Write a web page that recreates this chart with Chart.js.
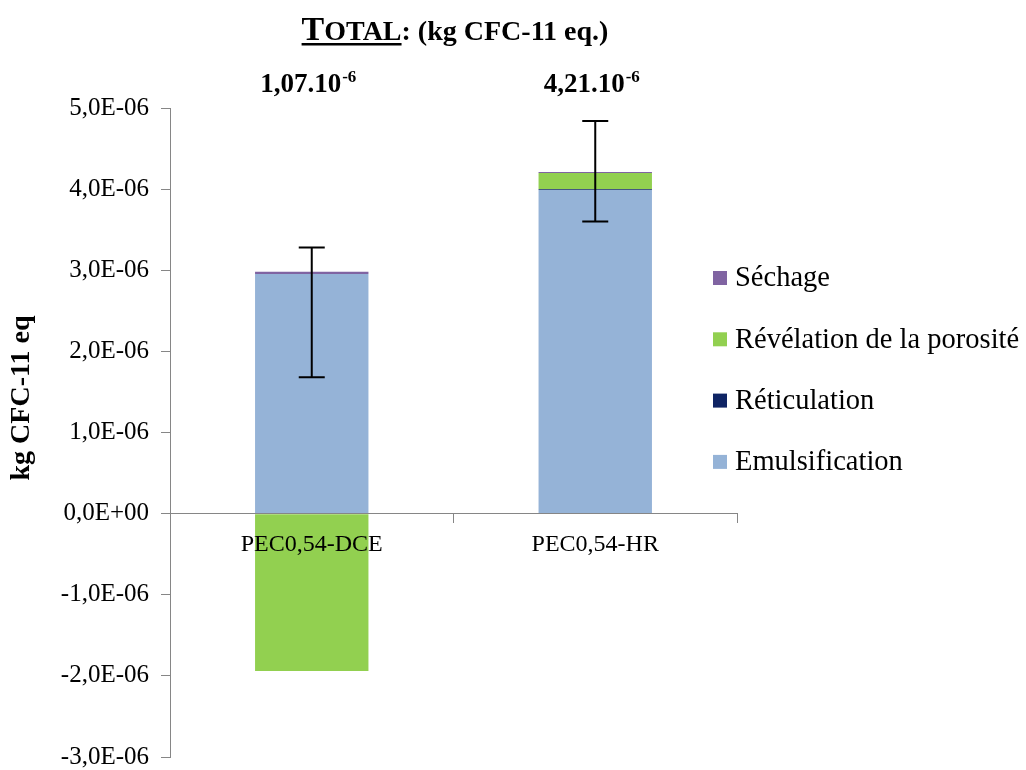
<!DOCTYPE html>
<html>
<head>
<meta charset="utf-8">
<script src="https://cdn.jsdelivr.net/npm/chart.js@4.4.0/dist/chart.umd.min.js"></script>
<style>
    body { margin: 0; background: #fff; }
    canvas { display: block; }
</style>
</head>
<body>
<canvas id="odpChart" width="1026" height="770"></canvas>
<script>
const categories = ['PEC0,54-DCE', 'PEC0,54-HR'];
const emulsification = [2.955e-6, 3.99e-6];
const reticulation = [0.0, 0.01e-6];
const revelation = [-1.94e-6, 0.2e-6];
const sechage = [0.025e-6, 0.01e-6];
const errLow = [1.68e-6, 3.6e-6];
const errHigh = [3.28e-6, 4.84e-6];
const totals = ['1,07.10', '4,21.10'];
const totalsExp = '-6';
const yTicks = [-3e-6, -2e-6, -1e-6, 0, 1e-6, 2e-6, 3e-6, 4e-6, 5e-6];

const serif = '"Liberation Serif", "Times New Roman", serif';

function fmtTick(v) {
    // 5e-6 -> "5,0E-06"
    var s = v.toExponential(1);
    var parts = s.split('e');
    var exp = parseInt(parts[1], 10);
    var sign = exp < 0 ? '-' : '+';
    var e = Math.abs(exp).toString().padStart(2, '0');
    return parts[0].replace('.', ',') + 'E' + sign + e;
}

// error bars on top of the stacks
const errorBars = {
    id: 'errorBars',
    afterDatasetsDraw(chart) {
        const ctx = chart.ctx;
        const x = chart.scales.x, y = chart.scales.y;
        ctx.save();
        ctx.strokeStyle = '#000';
        ctx.lineWidth = 2;
        for (let i = 0; i < categories.length; i++) {
            const px = x.getPixelForValue(i);
            const top = y.getPixelForValue(errHigh[i]);
            const bot = y.getPixelForValue(errLow[i]);
            ctx.beginPath();
            ctx.moveTo(px, top); ctx.lineTo(px, bot);
            ctx.moveTo(px - 13, top); ctx.lineTo(px + 13, top);
            ctx.moveTo(px - 13, bot); ctx.lineTo(px + 13, bot);
            ctx.stroke();
        }
        ctx.restore();
    }
};

// title, totals, y title and legend
const decorations = {
    id: 'decorations',
    afterDraw(chart) {
        const ctx = chart.ctx;
        ctx.save();
        ctx.fillStyle = '#000';
        ctx.textBaseline = 'alphabetic';
        ctx.textAlign = 'left';

        // title
        const big = 'bold 34px ' + serif, mid = 'bold 28px ' + serif;
        ctx.font = big; const wT = ctx.measureText('T').width;
        ctx.font = mid; const wOtal = ctx.measureText('OTAL').width;
        const wRest = ctx.measureText(': (kg CFC-11 eq.)').width;
        let tx = 455 - (wT + wOtal + wRest) / 2;
        const ty = 40;
        ctx.font = big; ctx.fillText('T', tx, ty);
        ctx.font = mid; ctx.fillText('OTAL', tx + wT, ty);
        ctx.fillText(': (kg CFC-11 eq.)', tx + wT + wOtal, ty);
        ctx.fillRect(tx, ty + 3, wT + wOtal, 2.5);

        // totals above bars
        const x = chart.scales.x;
        for (let i = 0; i < totals.length; i++) {
            ctx.font = 'bold 27px ' + serif;
            const w1 = ctx.measureText(totals[i]).width;
            ctx.font = 'bold 17px ' + serif;
            const w2 = ctx.measureText(totalsExp).width;
            const sx = x.getPixelForValue(i) - (w1 + w2) / 2 - 4;
            ctx.font = 'bold 27px ' + serif;
            ctx.fillText(totals[i], sx, 92);
            ctx.font = 'bold 17px ' + serif;
            ctx.fillText(totalsExp, sx + w1 + 1, 82);
        }

        // y axis title
        ctx.save();
        ctx.translate(29, 398);
        ctx.rotate(-Math.PI / 2);
        ctx.textAlign = 'center';
        ctx.font = 'bold 28px ' + serif;
        ctx.fillText('kg CFC-11 eq', 0, 0);
        ctx.restore();

        // legend, reversed order
        const ds = chart.data.datasets;
        ctx.font = '28.5px ' + serif;
        ctx.textBaseline = 'middle';
        for (let k = 0; k < ds.length; k++) {
            const d = ds[ds.length - 1 - k];
            const cy = 278 + k * 61.3;
            ctx.fillStyle = d.backgroundColor;
            ctx.fillRect(713, cy - 7, 14, 14);
            ctx.fillStyle = '#000';
            ctx.fillText(d.label, 735, cy + 1);
        }
        ctx.restore();
    }
};

var ctx = document.getElementById('odpChart').getContext('2d');
var myChart = new Chart(ctx, {
    type: 'bar',
    data: {
        labels: categories,
        datasets: [
            { label: 'Emulsification', data: emulsification, backgroundColor: '#95B3D7' },
            { label: 'Réticulation', data: reticulation, backgroundColor: '#0F2464' },
            { label: 'Révélation de la porosité', data: revelation, backgroundColor: '#92D050' },
            { label: 'Séchage', data: sechage, backgroundColor: '#8064A2' }
        ]
    },
    options: {
        responsive: false,
        animation: false,
        layout: { padding: { left: 0, top: 108, right: 289, bottom: 13 } },
        datasets: { bar: { barPercentage: 0.4, categoryPercentage: 1.0, borderWidth: 0 } },
        plugins: { legend: { display: false }, tooltip: { enabled: false } },
        scales: {
            x: {
                stacked: true,
                position: { y: 0 },
                grid: { display: true, offset: true, drawOnChartArea: false, tickLength: 9, color: '#868686', z: 1 },
                border: { display: true, color: '#868686', width: 1, z: 1 },
                ticks: { color: '#000', padding: 8, z: 1, font: { family: serif, size: 24 } }
            },
            y: {
                stacked: true,
                min: -3e-6,
                max: 5e-6,
                afterBuildTicks: function(scale) {
                    scale.ticks = yTicks.map(function(v) { return { value: v }; });
                },
                afterFit: function(scale) {
                    scale.width = 170;
                    scale.paddingTop = 0;
                    scale.paddingBottom = 0;
                },
                grid: { drawOnChartArea: false, tickLength: 9, color: '#868686' },
                border: { display: true, color: '#868686', width: 1 },
                ticks: {
                    color: '#000', padding: 12,
                    font: { family: serif, size: 25 },
                    callback: function(v) { return fmtTick(v); }
                }
            }
        }
    },
    plugins: [errorBars, decorations]
});
</script>
</body>
</html>
